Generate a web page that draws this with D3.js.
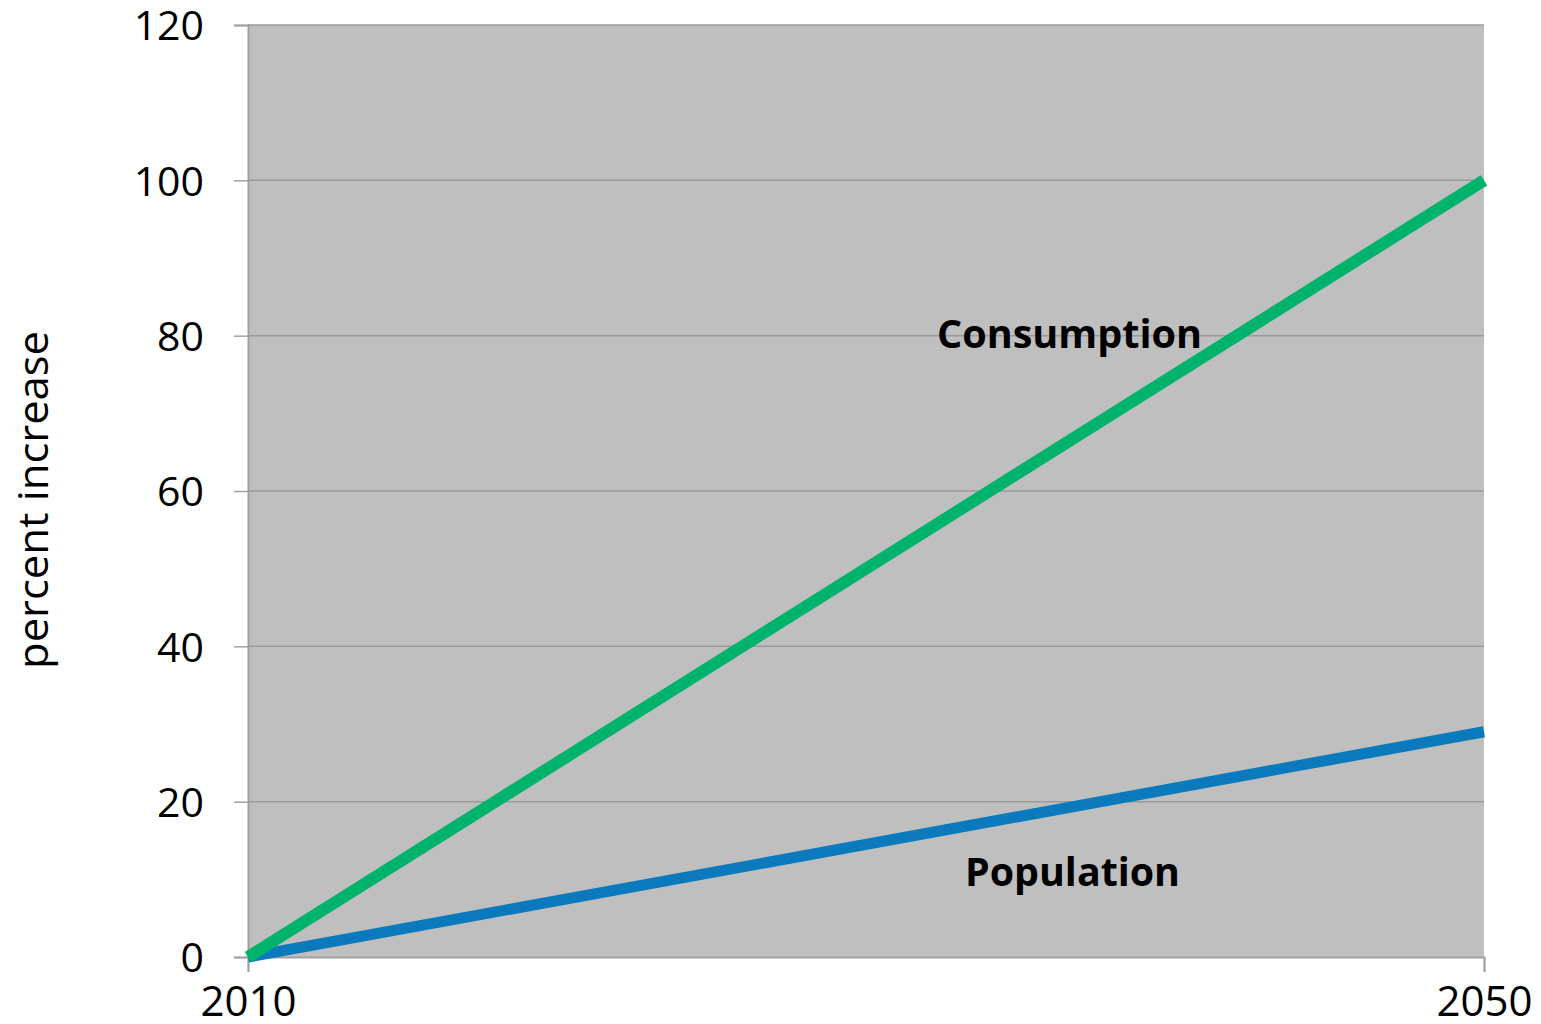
<!DOCTYPE html>
<html><head><meta charset="utf-8">
<script src="https://cdn.jsdelivr.net/npm/d3@7"></script>
<style>html,body{margin:0;padding:0;background:#fff}svg{display:block}</style>
</head><body>
<script>
const years = [2010, 2050];
const consumption = [0, 100];
const population = [0, 29];
const yTicks = [0, 20, 40, 60, 80, 100, 120];
const seriesNames = ["Consumption", "Population"];
const yLabel = "percent increase";

const W = 1541, H = 1024;
const m = {left: 248, right: 1484, top: 25, bottom: 957};
const svg = d3.select("body").append("svg").attr("width", W).attr("height", H);
const font = "'Open Sans', 'DejaVu Sans', sans-serif";

const x = d3.scaleLinear().domain([2010, 2050]).range([m.left, m.right]);
const y = d3.scaleLinear().domain([0, 120]).range([m.bottom, m.top]);

svg.append("rect").attr("x", m.left).attr("y", m.top)
  .attr("width", m.right - m.left).attr("height", m.bottom - m.top).attr("fill", "#bfbfbf");

// y axis with gridlines
const yAxis = svg.append("g").attr("transform", `translate(${m.left},0)`)
  .call(d3.axisLeft(y).tickValues(yTicks).tickSize(14).tickPadding(30).tickFormat(d3.format("d")));
yAxis.select(".domain").attr("stroke", "#a0a0a0").attr("stroke-width", 2);
yAxis.selectAll(".tick line").attr("stroke", "#a0a0a0").attr("stroke-width", 1.5);
yAxis.selectAll(".tick text").attr("font-family", font).attr("font-size", 41).attr("fill", "#000").attr("dy", "0.36em");
svg.append("g").selectAll("line").data(yTicks.filter(d => d > 0)).join("line")
  .attr("x1", m.left).attr("x2", m.right).attr("y1", d => y(d)).attr("y2", d => y(d))
  .attr("stroke", "#9a9a9a").attr("stroke-width", 1.5);

// x axis
const xAxis = svg.append("g").attr("transform", `translate(0,${m.bottom})`)
  .call(d3.axisBottom(x).tickValues(years).tickSize(15).tickPadding(14).tickFormat(d3.format("d")));
xAxis.select(".domain").attr("stroke", "#a0a0a0").attr("stroke-width", 2);
xAxis.selectAll(".tick line").attr("stroke", "#a0a0a0").attr("stroke-width", 1.5);
xAxis.selectAll(".tick text").attr("font-family", font).attr("font-size", 42).attr("fill", "#000");

const line = d3.line().x((d, i) => x(years[i])).y(d => y(d));
svg.append("path").datum(population).attr("d", line).attr("fill", "none")
  .attr("stroke", "#0b7abd").attr("stroke-width", 11);
svg.append("path").datum(consumption).attr("d", line).attr("fill", "none")
  .attr("stroke", "#00b36c").attr("stroke-width", 12);

// labels
svg.append("text").text(seriesNames[0]).attr("x", 937).attr("y", 348)
  .attr("font-family", font).attr("font-weight", "bold").attr("font-size", 40)
  .attr("textLength", 265).attr("lengthAdjust", "spacingAndGlyphs").attr("fill", "#000");
svg.append("text").text(seriesNames[1]).attr("x", 965).attr("y", 886)
  .attr("font-family", font).attr("font-weight", "bold").attr("font-size", 40)
  .attr("textLength", 215).attr("lengthAdjust", "spacingAndGlyphs").attr("fill", "#000");

svg.append("text").text(yLabel)
  .attr("transform", "translate(48,500) rotate(-90)").attr("text-anchor", "middle")
  .attr("font-family", font).attr("font-size", 42)
  .attr("textLength", 338).attr("lengthAdjust", "spacingAndGlyphs").attr("fill", "#000");
</script>
</body></html>
